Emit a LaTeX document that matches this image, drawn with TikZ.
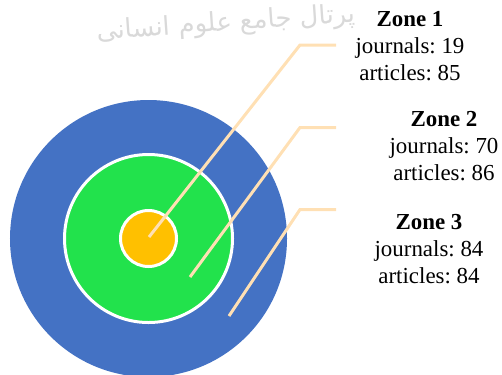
\documentclass[tikz,border=0pt]{standalone}
\usepackage{fontspec}
\setmainfont{Liberation Serif}
\newfontfamily\arabicfont[Script=Arabic]{DejaVu Sans}
\TeXXeTstate=1
\frenchspacing
\definecolor{zoneblue}{HTML}{4472C4}
\definecolor{zonegreen}{HTML}{22E24C}
\definecolor{zoneorange}{HTML}{FFC000}
\definecolor{leadcolor}{HTML}{FFE0B4}
\begin{document}
\begin{tikzpicture}[x=1bp,y=-1bp,
    disc/.style={circle,inner sep=0pt,draw=white,line width=3bp},
    zonetext/.style={align=center,anchor=north,inner sep=0pt,
      font=\fontsize{23}{27}\selectfont},
    leadline/.style={draw=leadcolor,line width=3bp}]
  \useasboundingbox (0,0) rectangle (502,374);
  \node[text=black!15,font=\arabicfont\fontsize{26}{26}\selectfont,rotate=4]
    (mark) at (226,24) {\beginR پرتال جامع علوم انسانی\endR};
  \draw
    (148.5,238.5) node[disc,draw=none,fill=zoneblue,minimum size=277bp] (outer){}
    (148.5,238.5) node[disc,fill=zonegreen,minimum size=168bp] (middle){}
    (148.5,238.5) node[disc,fill=zoneorange,minimum size=56bp] (core){};
  \draw
    (410,11) node[zonetext] (z1){\textbf{Zone 1}\\journals: 19\\articles: 85}
    (444,111) node[zonetext] (z2){\textbf{Zone 2}\\journals: 70\\articles: 86}
    (429,214) node[zonetext] (z3){\textbf{Zone 3}\\journals: 84\\articles: 84};
  \coordinate (p1) at (149,237);
  \coordinate (b1) at (300,45);
  \coordinate (e1) at (336,45);
  \coordinate (p2) at (190,277);
  \coordinate (b2) at (300,127.5);
  \coordinate (e2) at (336,127.5);
  \coordinate (p3) at (229,316);
  \coordinate (b3) at (300,209.5);
  \coordinate (e3) at (336,209.5);
  \begin{scope}[leadline]
    \draw (p1) -- (b1) -- (e1);
    \draw (p2) -- (b2) -- (e2);
    \draw (p3) -- (b3) -- (e3);
  \end{scope}
\end{tikzpicture}
\end{document}
